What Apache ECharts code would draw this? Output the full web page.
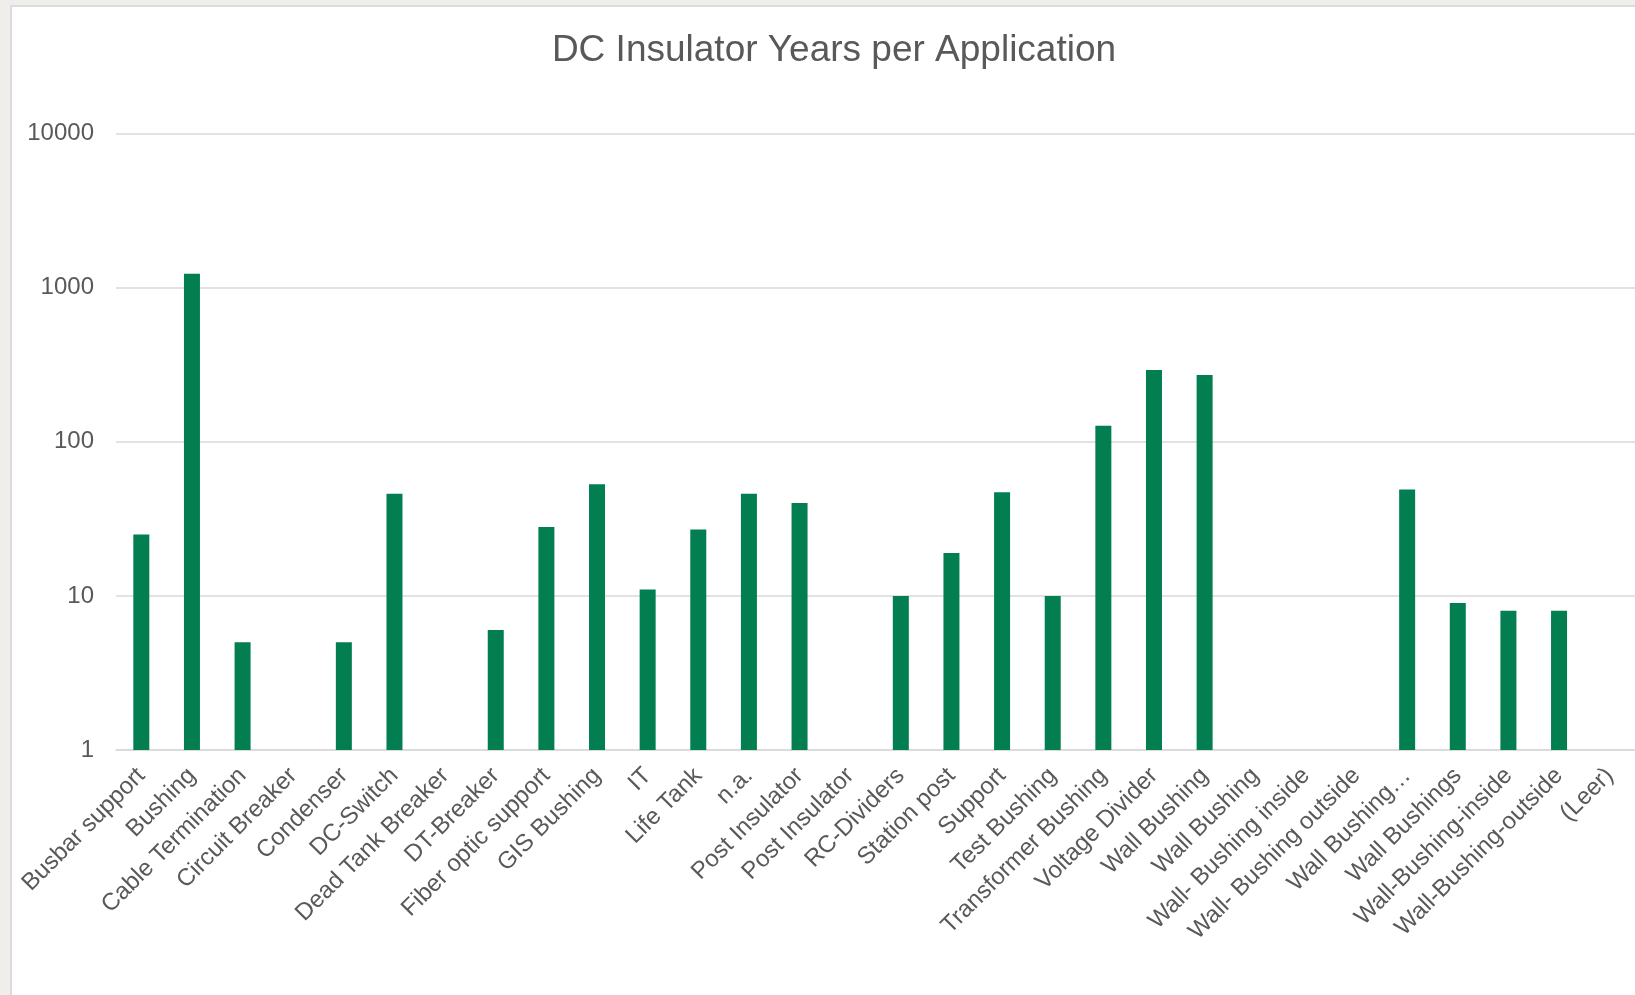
<!DOCTYPE html>
<html>
<head>
<meta charset="utf-8">
<script src="https://cdn.jsdelivr.net/npm/echarts@6/dist/echarts.min.js"></script>
<style>
  html, body { margin: 0; padding: 0; width: 1635px; height: 995px; overflow: hidden; background: #EFEEEA; }
  #frame { position: absolute; left: 10px; top: 5px; width: 1700px; height: 1100px; background: #FFFFFF; border: 2px solid #DCDCDC; box-sizing: border-box; }
  #chart { position: absolute; left: 0; top: 0; width: 1635px; height: 995px; }
</style>
</head>
<body>
<div id="frame"></div>
<div id="chart"></div>
<script>
const titleText = 'DC Insulator Years per Application';
const categories = [
  'Busbar support', 'Bushing', 'Cable Termination', 'Circuit Breaker', 'Condenser',
  'DC-Switch', 'Dead Tank Breaker', 'DT-Breaker', 'Fiber optic support', 'GIS Bushing',
  'IT', 'Life Tank', 'n.a.', 'Post Insulator', 'Post Insulator',
  'RC-Dividers', 'Station post', 'Support', 'Test Bushing', 'Transformer Bushing',
  'Voltage Divider', 'Wall Bushing', 'Wall Bushing', 'Wall- Bushing inside', 'Wall- Bushing outside',
  'Wall Bushing…', 'Wall Bushings', 'Wall-Bushing-inside', 'Wall-Bushing-outside', '(Leer)'
];
const years = [
  25, 1230, 5, null, 5,
  46, null, 6, 28, 53,
  11, 27, 46, 40, null,
  10, 19, 47, 10, 127,
  292, 271, null, null, null,
  49, 9, 8, 8, null
];
const yTicks = [1, 10, 100, 1000, 10000];

const chart = echarts.init(document.getElementById('chart'), null, { renderer: 'canvas' });
const FONT = "'Liberation Sans', Arial, sans-serif";
chart.setOption({
  backgroundColor: 'transparent',
  animation: false,
  title: {
    text: titleText,
    left: 829,
    top: 27,
    textAlign: 'center',
    textStyle: { fontFamily: FONT, fontSize: 37, fontWeight: 'normal', color: '#595959' }
  },
  grid: { left: 116, right: 0, top: 133.5, bottom: 245, containLabel: false },
  xAxis: {
    type: 'category',
    data: categories,
    axisTick: { show: false },
    axisLine: { lineStyle: { color: '#D9D9D9', width: 1.5 } },
    axisLabel: {
      interval: 0,
      rotate: 45,
      margin: 22,
      fontFamily: FONT,
      fontSize: 24,
      color: '#595959'
    }
  },
  yAxis: {
    type: 'log',
    logBase: 10,
    min: yTicks[0],
    max: yTicks[yTicks.length - 1],
    axisLine: { show: false },
    axisTick: { show: false },
    splitLine: { lineStyle: { color: '#D9D9D9', width: 1.5 } },
    axisLabel: {
      margin: 22,
      fontFamily: FONT,
      fontSize: 24,
      color: '#595959',
      formatter: v => String(Math.round(v))
    }
  },
  series: [{
    type: 'bar',
    data: years,
    barWidth: 16,
    itemStyle: { color: '#027E50' }
  }]
});
</script>
</body>
</html>
